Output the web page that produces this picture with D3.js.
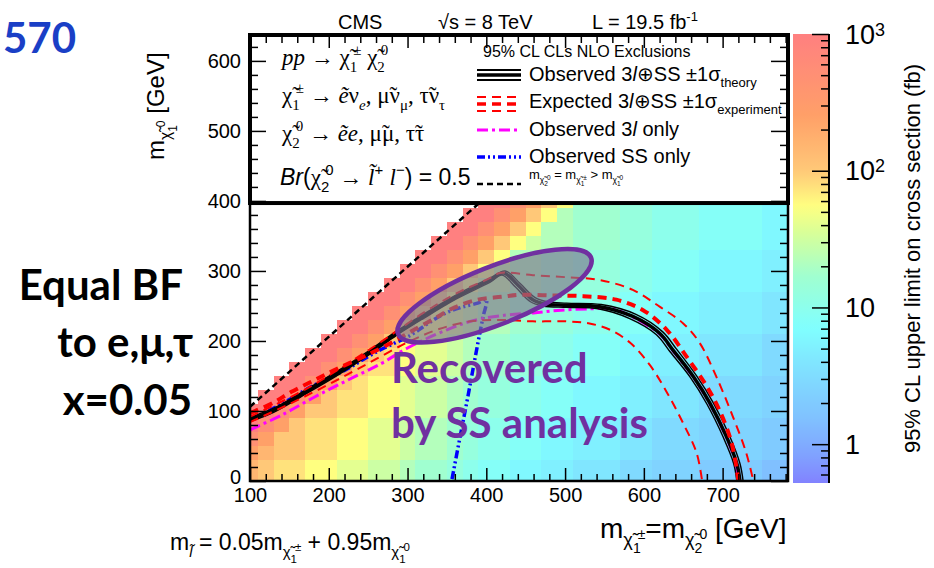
<!DOCTYPE html>
<html>
<head>
<meta charset="utf-8">
<script src="https://cdn.jsdelivr.net/npm/d3@7"></script>
<style>
  body { margin: 0; background: #fff; }
  svg text { font-family: "Liberation Sans", Arial, sans-serif; fill: #000; }
</style>
</head>
<body>
<svg id="chart" width="934" height="568"></svg>
<script>
/* ---------- data ---------- */
// bin centres of the limit map (GeV)
const xBins = [100,120,140,160,180,200,220,240,260,280,300,320,340,360,380,400,420,440,460,480,
               500,520,540,560,580,600,620,640,660,680,700,720,740,760,780];
const yBins = [0,20,40,60,80,100,120,140,160,180,200,220,240,260,280,300,320,340,360,380,400];
// limit levels (fb), one letter per cell, '.' = no point
const levelCodes  = 'abcdefghijklmnopqrstu';
const levelValues = [1.5,2,2.5,3,4,5,6,8,10,13,17,22,30,40,55,75,100,150,250,500,1000];
const limitRows = [
  'rqppoonnmmlkkjihhggffeeeddcccbbbbaa', // y = 0
  'rqppoonnmmlkkjihhggffeeeddcccbbbbaa',
  'srqqppoonnmllkjiihhggfffeedddccccbb',
  'tsqqppoonnmllkjiihhggfffeedddccccbb',
  'utsqppoonnmllkjiihhggfffeedddccccbb',
  'uutsqqppoonmmlkjjiihhgggffeeeddddcc', // y = 100
  '.uutsqppoonmmlkjjiihhgggffeeeddddcc',
  '..uutsqpoonmmlkjjiihhgggffeeeddddcc',
  '...uutsqpponnmlkkjjiihhhggfffeeeedd',
  '....uutsqponnmlkkjjiihhhggfffeeeedd',
  '.....uutsqonnmlkkjjiihhhggfffeeeedd', // y = 200
  '......uutsqoonmllkkjjiiihhgggffffee',
  '.......uutsqonmllkkjjiiihhgggffffee',
  '........uutsqomllkkjjiiihhgggffffee',
  '.........uutsqommllkkjjjiihhhggggff',
  '..........uutsqomllkkjjjiihhhggggff', // y = 300
  '...........uutsqollkkjjjiihhhggggff',
  '............uutsqomllkkkjjiiihhhhgg',
  '.............uutsqollkkkjjiiihhhhgg',
  '..............uutsqolkkkjjiiihhhhgg',
  '...............uutsqokkkjjiiihhhhgg'  // y = 400
];

// exclusion contours, [m_chargino, m_LSP] in GeV
const observed = [[100,88],[130,101],[172,128],[214,156],[256,187],[286,211],[320,235],[362,263],[405,287],
  [422,297],[440,280],[459,259],[475,253],[502,251],[544,249],[586,235],[620,211],[637,187],[663,149],
  [684,111],[705,63],[718,25],[722,0]];
const observedUp = [[100,91],[130,104],[172,131],[214,159],[256,190],[286,214],[320,238],[362,266],[405,290],
  [424,300],[443,282],[462,262],[478,256],[502,254],[546,252],[590,238],[624,213],[641,189],[667,150],
  [688,112],[709,64],[722,25],[726,0]];
const observedDown = [[100,85],[130,98],[172,125],[214,153],[256,184],[286,208],[320,232],[362,260],[405,284],
  [420,294],[437,277],[456,256],[472,250],[502,248],[542,246],[582,232],[616,209],[633,185],[659,148],
  [680,110],[701,62],[714,25],[718,0]];
const expected = [[100,97],[130,112],[152,127],[180,143],[210,160],[245,178],[282,199],[305,214],[334,232],
  [360,248],[389,259],[419,263],[443,266],[481,265],[523,264],[565,259],[599,244],[629,216],[654,178],
  [680,135],[696,101],[710,60],[716,30],[720,0]];
const expectedUp = [[100,92],[172,132],[256,191],[320,240],[362,268],[405,290],[417,297],[459,294],[502,291],
  [544,287],[586,273],[620,249],[650,225],[671,197],[692,149],[713,92],[730,40],[739,0]];
const expectedDown = [[100,84],[150,110],[200,138],[250,168],[300,198],[340,217],[380,228],[417,230],[459,228],
  [502,228],[531,225],[557,216],[583,197],[608,165],[630,125],[651,80],[667,40],[674,0]];
const observed3l = [[100,73],[140,94],[182,120],[224,144],[267,168],[300,190],[350,216],[383,229],[425,237],
  [460,240],[495,244],[533,246],[560,246],[586,234],[620,210],[637,186],[663,148],[684,110],[705,62],
  [717,25],[720,0]];
const observedSS = [[100,87],[140,110],[180,136],[220,158],[260,184],[305,209],[326,225],[347,239],[368,248],
  [389,254],[400,259],[396,235],[390,201],[383,159],[375,111],[366,59],[356,0]];
const kinematicLine = [[100,106],[400,406]];

// highlighted region (end points of the ellipse, GeV)
const ellipseEnds = [[288,210],[533,319]];

// ticks
const xTicks = [100,200,300,400,500,600,700];
const yTicks = [0,100,200,300,400,500,600];
const colorTicks = [1,10,100,1000];
const colorTickLabels = [['1',''],['10',''],['10','2'],['10','3']];

// colour palette of the z axis
const colorStopValues = [0.52,0.8,1.5,3.5,7,17,35,55,100,250,1000];
const colorStopColors = ['#8282ff','#80a0ff','#80c0ff','#80e0ff','#80ffff','#a0ffd0','#d8ff98',
                         '#ffff80','#ffc878','#ffa068','#ff8080'];

/* ---------- scales ---------- */
const svg = d3.select('#chart');
const x = d3.scaleLinear().domain([100, 783]).range([250, 788]);
const y = d3.scaleLinear().domain([0, 637]).range([481, 35]);
const cScale = d3.scaleLog().domain([0.52, 1000]).range([483, 34]);
const color = d3.scaleLog().domain(colorStopValues).range(colorStopColors).clamp(true);

const [x0, x1] = x.range();
const [yb, yt] = y.range();

const defs = svg.append('defs');
defs.append('clipPath').attr('id', 'plotClip')
  .append('rect').attr('x', x0).attr('y', yt).attr('width', x1 - x0).attr('height', yb - yt);

/* ---------- limit map ---------- */
const cells = [];
limitRows.forEach((row, j) => {
  [...row].forEach((ch, i) => {
    if (ch === '.') return;
    cells.push({ xc: xBins[i], yc: yBins[j], v: levelValues[levelCodes.indexOf(ch)] });
  });
});

const plot = svg.append('g').attr('clip-path', 'url(#plotClip)');
plot.append('g').selectAll('rect')
  .data(cells)
  .join('rect')
  .attr('x', d => x(d.xc - 10))
  .attr('y', d => y(d.yc + 10))
  .attr('width', d => x(d.xc + 10) - x(d.xc - 10) + 0.5)
  .attr('height', d => y(d.yc - 10) - y(d.yc + 10) + 0.5)
  .attr('fill', d => color(d.v))
  .attr('shape-rendering', 'crispEdges');

/* ---------- contours ---------- */
const line = d3.line().x(d => x(d[0])).y(d => y(d[1])).curve(d3.curveCatmullRom.alpha(0.5));
const straight = d3.line().x(d => x(d[0])).y(d => y(d[1]));

function curve(data, stroke, width, dash, gen = line) {
  plot.append('path').datum(data)
    .attr('d', gen)
    .attr('fill', 'none')
    .attr('stroke', stroke)
    .attr('stroke-width', width)
    .attr('stroke-dasharray', dash || null);
}

curve(kinematicLine, '#000', 2.5, '6,4', straight);
curve(observedSS, '#0000ff', 3.5, '8,3,2,3,2,3');
curve(observed3l, '#ff00ff', 3, '11,4,3,4');
curve(observedUp, '#000', 1.4);
curve(observedDown, '#000', 1.4);
curve(observed, '#000', 3.5);
curve(expectedUp, '#ff0000', 2, '9,6');
curve(expectedDown, '#ff0000', 2, '9,6');
curve(expected, '#ff0000', 4, '9,6');

/* ---------- highlighted ellipse ---------- */
{
  const p1 = [x(ellipseEnds[0][0]), y(ellipseEnds[0][1])];
  const p2 = [x(ellipseEnds[1][0]), y(ellipseEnds[1][1])];
  const cx = (p1[0] + p2[0]) / 2, cy = (p1[1] + p2[1]) / 2;
  const rx = Math.hypot(p2[0] - p1[0], p2[1] - p1[1]) / 2;
  const ang = Math.atan2(p2[1] - p1[1], p2[0] - p1[0]) * 180 / Math.PI;
  svg.append('ellipse')
    .attr('transform', `translate(${cx},${cy}) rotate(${ang})`)
    .attr('rx', rx).attr('ry', 29)
    .attr('fill', '#7d7890').attr('fill-opacity', 0.66)
    .attr('stroke', '#7030a0').attr('stroke-width', 4.5);
}

/* ---------- legend box ---------- */
const boxBottom = y(397);
svg.append('rect')
  .attr('x', x0).attr('y', yt)
  .attr('width', x1 - x0).attr('height', boxBottom - yt)
  .attr('fill', '#fff').attr('stroke', '#000').attr('stroke-width', 4);

/* ---------- frame & ticks ---------- */
function minorOf(scale, step, majors) {
  const [a, b] = scale.domain();
  const out = [];
  for (let v = Math.ceil(a / step) * step; v <= b; v += step) if (!majors.includes(v)) out.push(v);
  return out;
}
const xMinor = minorOf(x, 20, xTicks);
const yMinor = minorOf(y, 20, yTicks);

function noDomain(g) { g.select('.domain').remove(); g.selectAll('line').attr('stroke', '#000').attr('stroke-width', 1.5); }

svg.append('g').attr('transform', `translate(0,${yb})`)
  .call(d3.axisBottom(x).tickValues(xTicks).tickSize(-13).tickPadding(7))
  .call(noDomain)
  .call(g => g.selectAll('text').style('font-size', '20px'));
svg.append('g').attr('transform', `translate(0,${yb})`)
  .call(d3.axisBottom(x).tickValues(xMinor).tickSize(-7).tickFormat(''))
  .call(noDomain);
svg.append('g').attr('transform', `translate(0,${yt})`)
  .call(d3.axisTop(x).tickValues(xTicks).tickSize(-13).tickFormat(''))
  .call(noDomain);
svg.append('g').attr('transform', `translate(0,${yt})`)
  .call(d3.axisTop(x).tickValues(xMinor).tickSize(-8).tickFormat(''))
  .call(noDomain);

svg.append('g').attr('transform', `translate(${x0},0)`)
  .call(d3.axisLeft(y).tickValues(yTicks).tickSize(-16).tickPadding(9))
  .call(noDomain)
  .call(g => g.selectAll('text').style('font-size', '20px'))
  .call(g => g.selectAll('.tick').filter(d => d === 0).select('text').attr('dy', '0.1em'));
svg.append('g').attr('transform', `translate(${x0},0)`)
  .call(d3.axisLeft(y).tickValues(yMinor).tickSize(-8).tickFormat(''))
  .call(noDomain);
svg.append('g').attr('transform', `translate(${x1},0)`)
  .call(d3.axisRight(y).tickValues(yTicks).tickSize(-17).tickFormat(''))
  .call(noDomain);
svg.append('g').attr('transform', `translate(${x1},0)`)
  .call(d3.axisRight(y).tickValues(yMinor).tickSize(-8).tickFormat(''))
  .call(noDomain);

svg.append('rect')
  .attr('x', x0).attr('y', yt).attr('width', x1 - x0).attr('height', yb - yt)
  .attr('fill', 'none').attr('stroke', '#000').attr('stroke-width', 2.5);

/* ---------- colour bar ---------- */
const cbX = 793, cbW = 36;
const grad = defs.append('linearGradient').attr('id', 'cbGrad')
  .attr('x1', 0).attr('y1', 1).attr('x2', 0).attr('y2', 0);
const [cLo, cHi] = cScale.domain();
d3.range(0, 1.0001, 0.02).forEach(t => {
  const v = cLo * Math.pow(cHi / cLo, t);
  grad.append('stop').attr('offset', t).attr('stop-color', color(v));
});
svg.append('rect')
  .attr('x', cbX).attr('y', cScale.range()[1])
  .attr('width', cbW).attr('height', cScale.range()[0] - cScale.range()[1])
  .attr('fill', 'url(#cbGrad)');

const cMinor = [];
[0.1, 1, 10, 100].forEach(dec => [2,3,4,5,6,7,8,9].forEach(k => {
  const v = dec * k;
  if (v >= cLo && v <= cHi) cMinor.push(v);
}));
svg.append('g').attr('transform', `translate(${cbX + cbW},0)`)
  .call(d3.axisRight(cScale).tickValues(cMinor).tickSize(-8).tickFormat(''))
  .call(noDomain);
svg.append('g').attr('transform', `translate(${cbX + cbW},0)`)
  .call(d3.axisRight(cScale).tickValues(colorTicks).tickSize(-17).tickFormat(''))
  .call(noDomain);
svg.append('line')
  .attr('x1', cbX + cbW).attr('x2', cbX + cbW)
  .attr('y1', cScale.range()[1]).attr('y2', cScale.range()[0])
  .attr('stroke', '#000').attr('stroke-width', 2);

colorTicks.forEach((v, i) => {
  const [base, sup] = colorTickLabels[i];
  const t = svg.append('text').attr('x', 845).attr('y', cScale(v)).attr('dy', '0.36em')
    .style('font-size', '27px').text(base);
  if (sup) t.append('tspan').attr('dy', '-0.45em').style('font-size', '18px').text(sup);
});

svg.append('text')
  .attr('transform', `translate(920,${(cScale.range()[0] + cScale.range()[1]) / 2}) rotate(-90)`)
  .attr('text-anchor', 'middle')
  .style('font-size', '22px')
  .text('95% CL upper limit on cross section (fb)');

/* ---------- rich text helper ---------- */
function rich(parent, px, py, parts, size, family) {
  const t = parent.append('text').attr('x', px).attr('y', py).style('font-size', size + 'px');
  if (family) t.style('font-family', family);
  let shift = 0;
  parts.forEach(([str, kind, st]) => {
    const off = kind === 'sub' ? size * 0.3 : kind === 'sup' ? -size * 0.42
              : kind === 'sub2' ? size * 0.55 : kind === 'subsup' ? size * 0.05 : 0;
    const ts = t.append('tspan').text(str).attr('dy', off - shift);
    shift = off;
    if (kind === 'sub' || kind === 'sup') ts.style('font-size', (size * 0.65) + 'px');
    if (kind === 'sub2' || kind === 'subsup') ts.style('font-size', (size * 0.5) + 'px');
    if (st && st.it) ts.style('font-style', 'italic');
    if (st && st.dx) ts.attr('dx', st.dx);
    if (st && st.fam) ts.style('font-family', st.fam);
  });
  return t;
}

/* ---------- legend ---------- */
const serif = '"Liberation Serif", "DejaVu Serif", serif';
const leg = svg.append('g');
rich(leg, 282, 65, [['pp', '', { it: 1 }], [' → '], ['χ̃'], ['1', 'sub'], ['±', 'sup', { dx: -4 }], [' '],
  ['χ̃'], ['2', 'sub'], ['0', 'sup', { dx: -4 }]], 23, serif);
rich(leg, 282, 103, [['χ̃'], ['1', 'sub'], ['±', 'sup', { dx: -4 }], [' → '], ['ẽ', '', { it: 1 }], ['ν'],
  ['e', 'sub', { it: 1 }], [', μ̃ν'], ['μ', 'sub'], [', τ̃ν'], ['τ', 'sub']], 23, serif);
rich(leg, 282, 141, [['χ̃'], ['2', 'sub'], ['0', 'sup', { dx: -4 }], [' → '], ['ẽe', '', { it: 1 }],
  [', μ̃μ, τ̃τ']], 23, serif);
rich(leg, 280, 185, [['Br', '', { it: 1 }], ['('], ['χ̃', '', { fam: serif }], ['2', 'sub'], ['0', 'sup', { dx: -4 }],
  [' → ', '', { fam: serif }], ['l̃', '', { it: 1, fam: serif }], ['+', 'sup'], [' '], ['l', '', { it: 1, fam: serif }],
  ['−', 'sup'], [') = 0.5']], 23);

leg.append('text').attr('x', 483).attr('y', 57).style('font-size', '16px').text('95% CL CLs NLO Exclusions');

const lx1 = 477, lx2 = 521;
function legLine(yy, stroke, width, dash) {
  leg.append('line').attr('x1', lx1).attr('x2', lx2).attr('y1', yy).attr('y2', yy)
    .attr('stroke', stroke).attr('stroke-width', width).attr('stroke-dasharray', dash || null);
}
legLine(70, '#000', 2); legLine(75, '#000', 3.5); legLine(80, '#000', 2);
legLine(97, '#ff0000', 2, '9,6'); legLine(104, '#ff0000', 3.5, '9,6'); legLine(111, '#ff0000', 2, '9,6');
legLine(130, '#ff00ff', 3, '11,4,3,4');
legLine(157, '#0000ff', 3.5, '8,3,2,3,2,3');
legLine(184, '#000', 2.5, '6,4');

rich(leg, 529, 81, [['Observed 3'], ['l', '', { it: 1 }], ['⊕SS ±1σ'], ['theory', 'sub']], 20);
rich(leg, 529, 108, [['Expected 3'], ['l', '', { it: 1 }], ['⊕SS ±1σ'], ['experiment', 'sub']], 20);
rich(leg, 529, 136, [['Observed 3'], ['l', '', { it: 1 }], [' only']], 20);
rich(leg, 529, 163, [['Observed SS only']], 20);
rich(leg, 529, 179, [['m'], ['χ̃', 'sub'], ['2', 'sub2'], ['0', 'subsup', { dx: -1 }], [' = m'], ['χ̃', 'sub'],
  ['1', 'sub2'], ['±', 'subsup', { dx: -1 }], [' > m'], ['χ̃', 'sub'], ['1', 'sub2'], ['0', 'subsup', { dx: -1 }]], 13);

/* ---------- titles ---------- */
svg.append('text').attr('x', 338).attr('y', 29).style('font-size', '20px').text('CMS');
svg.append('text').attr('x', 438).attr('y', 29).style('font-size', '20px').text('√s = 8 TeV');
rich(svg, 592, 29, [['L = 19.5 fb'], ['-1', 'sup']], 20);

svg.append('g').attr('transform', 'translate(164,160) rotate(-90)')
  .call(g => rich(g, 0, 0, [['m'], ['χ̃', 'sub'], ['1', 'sub2'], ['0', 'subsup', { dx: -2 }], ['  [GeV]']], 24));

rich(svg, 600, 538, [['m'], ['χ̃', 'sub'], ['1', 'sub2'], ['±', 'subsup', { dx: -3 }], ['=m'], ['χ̃', 'sub'],
  ['2', 'sub2'], ['0', 'subsup', { dx: -3 }], ['   [GeV]']], 28);

rich(svg, 170, 550, [['m'], ['l̃', 'sub', { it: 1 }], [' = 0.05m'], ['χ̃', 'sub'], ['1', 'sub2'],
  ['±', 'subsup', { dx: -2 }], [' + 0.95m'], ['χ̃', 'sub'], ['1', 'sub2'], ['0', 'subsup', { dx: -2 }]], 23);

/* ---------- slide annotations ---------- */
const bold = 'Lato, "Open Sans", sans-serif';
function note(txt, px, py, fill, anchor) {
  svg.append('text').attr('x', px).attr('y', py)
    .attr('text-anchor', anchor || 'start')
    .style('font-family', bold).style('font-weight', 'bold').style('font-size', '42px')
    .style('fill', fill).text(txt);
}
note('570', 3, 53, '#1a3fc6');
note('Equal BF', 183, 300, '#000', 'end');
note('to e,μ,τ', 193, 357, '#000', 'end');
note('x=0.05', 192, 415, '#000', 'end');
note('Recovered', 391, 383, '#7030a0');
note('by SS analysis', 391, 438, '#7030a0');
</script>
</body>
</html>
